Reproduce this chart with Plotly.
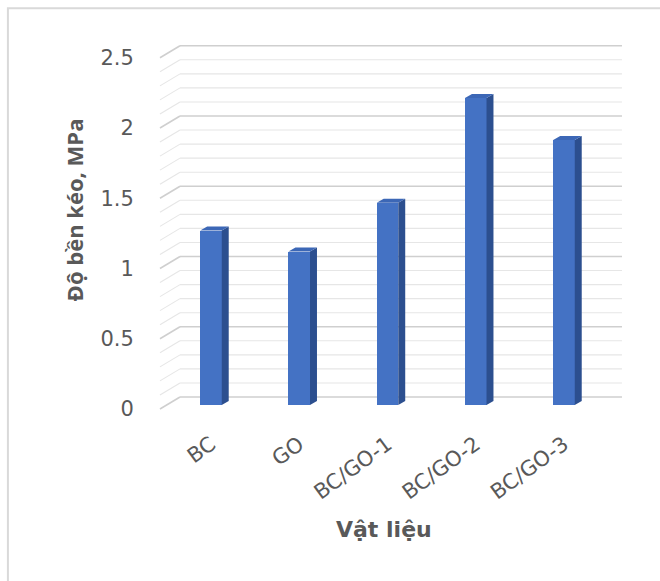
import plotly.graph_objects as go

# Tensile strength of each material
materials = ["BC", "GO", "BC/GO-1", "BC/GO-2", "BC/GO-3"]
strength_mpa = [1.25, 1.1, 1.45, 2.2, 1.9]

y_tick_values = [0, 0.5, 1, 1.5, 2, 2.5]
y_tick_labels = ["0", "0.5", "1", "1.5", "2", "2.5"]

x_title = "Vật liệu"
y_title = "Độ bền kéo, MPa"

# --- styling / pseudo-3D geometry ---
TEXT = "#595959"
FRONT = "#4472C4"
SIDE = "#2C4F8F"
TOP = "#3C67B6"
BAR_W = 0.244          # bar width (category units)
DEPTH_X = 0.079        # side-face depth (category units)
DEPTH_Y = 0.0287       # side-face rise (y2 units)
WALL_DY = 0.0854       # back wall offset above the front plane (y units)
X_FRONT, X_BACK, X_RIGHT = -0.578, -0.351, 4.657

xs = list(range(len(materials)))

fig = go.Figure()

# front faces of the columns
fig.add_trace(go.Bar(
    x=xs, y=strength_mpa, width=BAR_W, yaxis="y2",
    marker=dict(color=FRONT, line=dict(width=0)),
    hoverinfo="skip", showlegend=False,
))

# right-hand side faces and top faces, built from the same values
side_x, side_y, top_x, top_y = [], [], [], []
for x, v in zip(xs, strength_mpa):
    r = x + BAR_W / 2
    l = x - BAR_W / 2
    side_x += [r, r + DEPTH_X, r + DEPTH_X, r, r, None]
    side_y += [0, DEPTH_Y, v + DEPTH_Y, v, 0, None]
    top_x += [l, r, r + DEPTH_X, l + DEPTH_X, l, None]
    top_y += [v, v, v + DEPTH_Y, v + DEPTH_Y, v, None]

fig.add_trace(go.Scatter(
    x=side_x, y=side_y, yaxis="y2", mode="lines", fill="toself",
    fillcolor=SIDE, line=dict(width=0, color=SIDE),
    hoverinfo="skip", showlegend=False,
))
fig.add_trace(go.Scatter(
    x=top_x, y=top_y, yaxis="y2", mode="lines", fill="toself",
    fillcolor=TOP, line=dict(width=0, color=TOP),
    hoverinfo="skip", showlegend=False,
))

# perspective gridlines: slanted floor edge + back wall line, every 0.1
shapes = []
for i in range(26):
    v = i / 10
    major = i % 5 == 0
    color = "#CFCFCF" if major else "#E6E6E6"
    width = 1.6 if major else 1.1
    shapes.append(dict(type="line", xref="x", yref="y", layer="below",
                       x0=X_FRONT, y0=v, x1=X_BACK, y1=v + WALL_DY,
                       line=dict(color=color, width=width)))
    shapes.append(dict(type="line", xref="x", yref="y", layer="below",
                       x0=X_BACK, y0=v + WALL_DY, x1=X_RIGHT, y1=v + WALL_DY,
                       line=dict(color=color, width=width)))

# chart frame
shapes.append(dict(type="rect", xref="paper", yref="paper", layer="below",
                   x0=-0.296, x1=1.08, y0=-0.45, y1=1.056,
                   line=dict(color="#D9D9D9", width=2), fillcolor="rgba(0,0,0,0)"))

fig.update_layout(
    width=660, height=581,
    margin=dict(l=150, r=30, t=30, b=161),
    paper_bgcolor="white", plot_bgcolor="white",
    shapes=shapes,
    bargap=0,
    xaxis=dict(
        range=[-0.691, 4.748], tickvals=xs, ticktext=materials,
        tickangle=-36, showgrid=False, zeroline=False, showline=False,
        ticks="outside", ticklen=3, tickcolor="rgba(0,0,0,0)",
        tickfont=dict(family="DejaVu Sans", size=21, color=TEXT),
    ),
    yaxis=dict(
        range=[-0.0783, 2.6975], tickvals=y_tick_values, ticktext=y_tick_labels,
        showgrid=False, zeroline=False, showline=False,
        ticks="outside", ticklen=11, tickcolor="rgba(0,0,0,0)",
        tickfont=dict(family="DejaVu Sans", size=21, color=TEXT),
    ),
    yaxis2=dict(range=[-0.1075, 2.688], overlaying="y", visible=False),
    annotations=[
        dict(text=f"<b>{x_title}</b>", xref="paper", yref="paper",
             x=0.4875, y=-0.282, showarrow=False,
             xanchor="center", yanchor="middle",
             font=dict(family="DejaVu Sans", size=22, color=TEXT)),
        dict(text=f"<b>{y_title}</b>", xref="paper", yref="paper",
             x=-0.16, y=0.538, showarrow=False, textangle=-90,
             xanchor="center", yanchor="middle", xshift=1,
             font=dict(family="Open Sans", size=22, color=TEXT)),
    ],
)

fig.write_html("out.html")
